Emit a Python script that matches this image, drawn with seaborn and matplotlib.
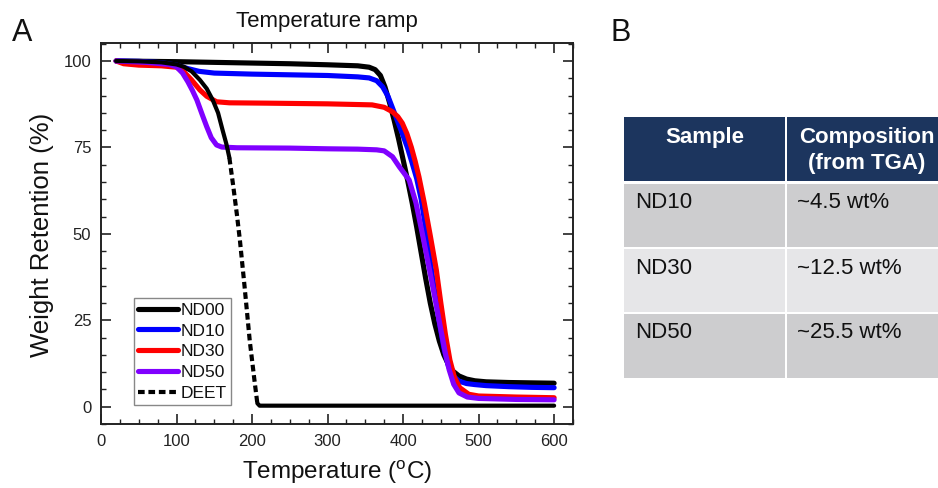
import numpy as np
import pandas as pd
import matplotlib
matplotlib.use("Agg")
import matplotlib.pyplot as plt
from matplotlib.patches import Rectangle
from matplotlib.lines import Line2D
from matplotlib.ticker import MultipleLocator
import seaborn as sns

# ---------------- data ----------------
temp_nd00 = [20, 60, 100, 150, 200, 250, 300, 340, 355, 363, 370, 376, 382, 388, 394, 400,
             406, 412, 418, 424, 430, 436, 442, 448, 454, 460, 466, 474, 484, 495, 510, 540, 570, 600]
w_nd00 = [100, 99.9, 99.8, 99.6, 99.4, 99.2, 98.9, 98.6, 98.2, 97.5, 95.8, 92.5, 88, 83, 77.5, 71.5,
          65.5, 59, 52, 44.5, 37, 30, 24, 19, 15, 12.2, 10.3, 8.9, 8, 7.5, 7.2, 7.0, 6.9, 6.8]

temp_nd10 = [20, 50, 80, 100, 115, 130, 150, 200, 250, 300, 340, 355, 365, 373, 380, 386, 392,
             399, 406, 412, 418, 424, 430, 436, 442, 448, 454, 460, 466, 474, 484, 495, 510, 540, 570, 600]
w_nd10 = [100, 99.9, 99.5, 98.8, 97.8, 97, 96.5, 96.2, 96, 95.8, 95.4, 95.1, 94.3, 92.5, 89.8, 86.4, 83,
          79, 74.8, 70.5, 66, 60, 51.5, 42, 33, 24.5, 17, 11.8, 9, 7.4, 6.7, 6.4, 6.1, 5.8, 5.6, 5.5]

temp_nd30 = [20, 30, 50, 80, 100, 110, 120, 131, 140, 153, 170, 220, 300, 340, 359, 375, 386, 393,
             399, 405, 411, 416, 421, 428, 436, 444, 450, 456, 462, 468, 475, 487, 500, 550, 600]
w_nd30 = [100, 99.2, 98.8, 98.6, 98.2, 96.8, 94.5, 91.6, 89.8, 88.2, 87.9, 87.8, 87.6, 87.4, 87.3, 86.6,
          85.3, 83.9, 82, 79, 75, 71, 66.5, 59, 49.5, 39.6, 30, 21, 13.5, 8.5, 5.5, 3.6, 3.1, 2.8, 2.6]

temp_nd50 = [20, 60, 90, 100, 108, 115, 121, 127, 134, 140, 146, 153, 160, 180, 250, 300, 340, 365,
             375, 386, 395, 408, 417, 426, 435, 443, 450, 456, 461, 467, 474, 485, 500, 550, 600]
w_nd50 = [100, 99.6, 99, 98.3, 96.5, 94, 91.5, 88.7, 84.5, 81, 77.8, 75.7, 75.1, 74.9, 74.8, 74.6, 74.5,
          74.3, 74, 72.3, 69.4, 65.6, 59, 49.5, 39.6, 30.5, 22.3, 15.5, 10.7, 6.5, 4, 2.8, 2.4, 2.1, 2.0]

temp_deet = [20, 50, 80, 100, 110, 120, 131, 140, 148, 155, 161, 166, 170, 175, 180, 184, 190, 197,
             203, 207, 210, 250, 300, 400, 500, 600]
w_deet = [100, 99.9, 99.6, 99, 98.3, 97, 94.5, 92, 88.7, 85, 80, 76, 72, 64, 55.5, 48, 35, 19,
          8, 1, 0.3, 0.3, 0.3, 0.3, 0.3, 0.3]

series_names = ["ND00", "ND10", "ND30", "ND50", "DEET"]
series_colors = ["#000000", "#0000FF", "#FF0000", "#8000FF", "#000000"]

table_header = ["Sample", "Composition\n(from TGA)"]
table_samples = ["ND10", "ND30", "ND50"]
table_comp = ["~4.5 wt%", "~12.5 wt%", "~25.5 wt%"]

# ---------------- style ----------------
sns.set_theme(style="ticks")
plt.rcParams["font.family"] = ["Liberation Sans", "DejaVu Sans"]
plt.rcParams["mathtext.fontset"] = "custom"
plt.rcParams["mathtext.rm"] = "Liberation Sans"

W, H = 938, 488
fig = plt.figure(figsize=(W / 100, H / 100), dpi=100)
ax = fig.add_axes([101 / W, 1 - 424 / H, 472 / W, 381 / H])

lw = 3.7
data = [(temp_nd00, w_nd00), (temp_nd10, w_nd10), (temp_nd30, w_nd30), (temp_nd50, w_nd50)]
for (t, w), c in zip(data, series_colors[:4]):
    sns.lineplot(x=t, y=w, ax=ax, color=c, lw=lw, sort=False,
                 solid_capstyle="round", solid_joinstyle="round")

# DEET: solid head, dashed drop, solid baseline
t_d = np.array(temp_deet)
w_d = np.array(w_deet)
head = t_d <= 170
drop = (t_d >= 170) & (t_d <= 207)
base = t_d >= 207
sns.lineplot(x=t_d[head], y=w_d[head], ax=ax, color="black", lw=3.0, sort=False,
             solid_capstyle="round")
sns.lineplot(x=t_d[drop], y=w_d[drop], ax=ax, color="black", lw=3.0, sort=False,
             linestyle=(0, (1.6, 0.9)))
sns.lineplot(x=t_d[base], y=w_d[base], ax=ax, color="black", lw=3.0, sort=False,
             solid_capstyle="round")

ax.set_xlim(0, 625)
ax.set_ylim(-5, 105.2)
ax.xaxis.set_major_locator(MultipleLocator(100))
ax.xaxis.set_minor_locator(MultipleLocator(25))
ax.yaxis.set_major_locator(MultipleLocator(25))
ax.yaxis.set_minor_locator(MultipleLocator(5))
ax.tick_params(which="both", direction="in", top=True, right=True, colors="#222222",
               labelcolor="#222222", labelsize=12)
ax.tick_params(which="major", length=7, width=1.2, pad=7)
ax.tick_params(which="minor", length=3.5, width=1.0)
for s in ax.spines.values():
    s.set_linewidth(1.4)
    s.set_color("#222222")
ax.set_xlabel("")
ax.set_ylabel("")

fig.text(327 / W, 1 - 22 / H, "Temperature ramp", ha="center", va="center", fontsize=16,
         color="#111111")
fig.text(337 / W, 1 - 472 / H, r"Temperature ($^{\rm o}$C)", ha="center", va="center",
         fontsize=17.5, color="#111111")
fig.text(42 / W, 1 - 235 / H, "Weight Retention (%)", ha="center", va="center",
         rotation=90, fontsize=18.5, color="#111111")
fig.text(22 / W, 1 - 33 / H, "A", ha="center", va="center", fontsize=22, color="#111111")
fig.text(621 / W, 1 - 33 / H, "B", ha="center", va="center", fontsize=22, color="#111111")

# legend
handles = [Line2D([], [], color=c, lw=lw) for c in series_colors[:4]]
handles.append(Line2D([], [], color="black", lw=3.0, linestyle=(0, (1.6, 0.9))))
leg = ax.legend(handles, series_names, loc="lower left",
                bbox_to_anchor=((134 - 101) / 472, (424 - 405) / 381),
                fontsize=12.5, frameon=True, fancybox=False, edgecolor="#888888",
                framealpha=1, borderpad=0.25, handlelength=2.3, handletextpad=0.12,
                labelspacing=0.32, borderaxespad=0)
leg.get_frame().set_linewidth(1.0)
for txt in leg.get_texts():
    txt.set_color("#111111")

# ---------------- table (panel B) ----------------
def px_rect(x0, y0, x1, y1, color):
    fig.add_artist(Rectangle((x0 / W, 1 - y1 / H), (x1 - x0) / W, (y1 - y0) / H,
                             transform=fig.transFigure, facecolor=color, edgecolor="none"))

navy = "#1C355E"
dark_row = "#CDCDCF"
light_row = "#E6E6E8"
col0, col_div, col1 = 624, 786, 960
px_rect(col0, 117, col_div - 1, 181, navy)
px_rect(col_div + 1, 117, col1, 181, navy)
row_bounds = [(184, 247), (249, 312), (314, 378)]
row_colors = [dark_row, light_row, dark_row]
for (y0, y1), rc in zip(row_bounds, row_colors):
    px_rect(col0, y0, col_div - 1, y1, rc)
    px_rect(col_div + 1, y0, col1, y1, rc)

fs_tab = 16
fig.text(705 / W, 1 - 138 / H, table_header[0], ha="center", va="center", fontsize=fs_tab,
         fontweight="bold", color="white")
hdr2 = table_header[1].split("\n")
fig.text(867 / W, 1 - 138 / H, hdr2[0], ha="center", va="center", fontsize=fs_tab,
         fontweight="bold", color="white")
fig.text(867 / W, 1 - 163 / H, hdr2[1], ha="center", va="center", fontsize=fs_tab,
         fontweight="bold", color="white")
row_text_y = [202, 268, 333]
for yy, s, c in zip(row_text_y, table_samples, table_comp):
    fig.text(635 / W, 1 - yy / H, s, ha="left", va="center", fontsize=fs_tab, color="#111111")
    fig.text(797 / W, 1 - yy / H, c, ha="left", va="center", fontsize=fs_tab, color="#111111")

fig.savefig("out.png", dpi=100)
